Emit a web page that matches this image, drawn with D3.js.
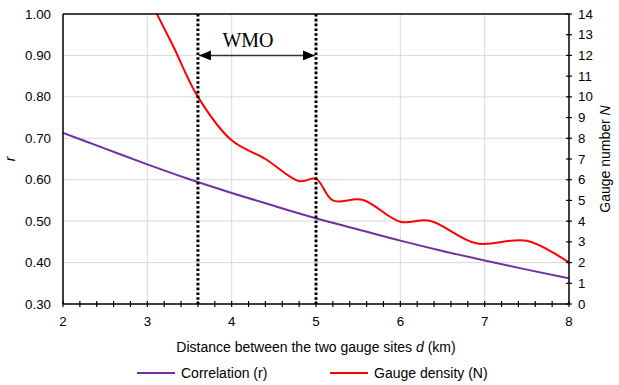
<!DOCTYPE html>
<html><head><meta charset="utf-8">
<script src="https://cdn.jsdelivr.net/npm/d3@7"></script>
<style>body{margin:0;background:#fff}svg{display:block}</style>
</head><body>
<svg id="c" width="619" height="385"></svg>
<script>
// Data
const corrDist = [2, 2.5, 3, 3.5, 4, 4.5, 5, 5.5, 6, 6.5, 7, 7.5, 8];
const corrR = [0.713, 0.675, 0.637, 0.601, 0.568, 0.537, 0.507, 0.480, 0.453, 0.428, 0.405, 0.383, 0.362];
const densDist = [3.0, 3.3, 3.6, 4.0, 4.4, 4.8, 5.0, 5.2, 5.55, 6.0, 6.35, 6.9, 7.5, 8.0];
const densN = [14.9, 12.5, 10.0, 7.9, 7.0, 5.93, 6.04, 5.0, 5.03, 3.97, 4.02, 2.93, 3.05, 2.0];
const xTicks = [2, 3, 4, 5, 6, 7, 8];
const rTicks = [0.30, 0.40, 0.50, 0.60, 0.70, 0.80, 0.90, 1.00];
const nTicks = [0,1,2,3,4,5,6,7,8,9,10,11,12,13,14];
const wmoRange = [3.6, 5];
const seriesNames = ["Correlation (r)", "Gauge density (N)"];

const svg = d3.select("#c");
const L = 63, R = 569, T = 14, B = 304;
const x = d3.scaleLinear().domain([2, 8]).range([L, R]);
const yR = d3.scaleLinear().domain([0.3, 1.0]).range([B, T]);
const yN = d3.scaleLinear().domain([0, 14]).range([B, T]);
const font = "'Liberation Sans', Arial, sans-serif";

// gridlines
const g = svg.append("g");
g.selectAll(".hg").data(rTicks.filter(v => v > 0.31 && v < 0.99)).enter().append("line")
  .attr("x1", L).attr("x2", R).attr("y1", d => yR(d)).attr("y2", d => yR(d))
  .attr("stroke", "#d9d9d9").attr("stroke-width", 1);
g.selectAll(".vg").data(xTicks.filter(v => v > 2 && v < 8)).enter().append("line")
  .attr("x1", d => x(d)).attr("x2", d => x(d)).attr("y1", T).attr("y2", B)
  .attr("stroke", "#d9d9d9").attr("stroke-width", 1);

// clip
svg.append("clipPath").attr("id", "clip").append("rect")
  .attr("x", L).attr("y", T).attr("width", R - L).attr("height", B - T);

// lines
svg.append("path").datum(corrDist.map((d, i) => [d, corrR[i]]))
  .attr("d", d3.line().x(d => x(d[0])).y(d => yR(d[1])).curve(d3.curveMonotoneX))
  .attr("fill", "none").attr("stroke", "#7030A0").attr("stroke-width", 2);
svg.append("path").datum(densDist.map((d, i) => [d, densN[i]]))
  .attr("clip-path", "url(#clip)")
  .attr("d", d3.line().x(d => x(d[0])).y(d => yN(d[1])).curve(d3.curveCatmullRom.alpha(0.5)))
  .attr("fill", "none").attr("stroke", "#FF0000").attr("stroke-width", 2);

// frame
svg.append("line").attr("x1", L).attr("x2", R).attr("y1", T).attr("y2", T).attr("stroke", "#000").attr("stroke-width", 1.5);
svg.append("line").attr("x1", L).attr("x2", L).attr("y1", T).attr("y2", B).attr("stroke", "#000").attr("stroke-width", 1.5);

// bottom axis
const xMinor = d3.range(2, 8.001, 0.2);
const xa = svg.append("g");
xa.append("line").attr("x1", L).attr("x2", R).attr("y1", B).attr("y2", B).attr("stroke", "#000").attr("stroke-width", 1.5);
xa.selectAll(".t").data(xMinor).enter().append("line")
  .attr("x1", d => x(d)).attr("x2", d => x(d)).attr("y1", B - 3).attr("y2", B + 3)
  .attr("stroke", "#000").attr("stroke-width", 1.2);
xa.selectAll(".l").data(xTicks).enter().append("text")
  .attr("x", d => x(d)).attr("y", B + 22).attr("text-anchor", "middle")
  .attr("font-family", font).attr("font-size", 13.3).attr("fill", "#000").text(d => d);

// left axis labels
svg.selectAll(".yl").data(rTicks).enter().append("text")
  .attr("x", 51).attr("y", d => yR(d) + 4.5).attr("text-anchor", "end")
  .attr("font-family", font).attr("font-size", 13.3).attr("fill", "#000").text(d => d.toFixed(2));

// right axis
const ra = svg.append("g");
ra.append("line").attr("x1", R).attr("x2", R).attr("y1", T).attr("y2", B).attr("stroke", "#000").attr("stroke-width", 1.5);
ra.selectAll(".t").data(nTicks).enter().append("line")
  .attr("x1", R - 3).attr("x2", R + 3).attr("y1", d => yN(d)).attr("y2", d => yN(d))
  .attr("stroke", "#000").attr("stroke-width", 1.2);
ra.selectAll(".l").data(nTicks).enter().append("text")
  .attr("x", R + 9).attr("y", d => yN(d) + 4.5).attr("text-anchor", "start")
  .attr("font-family", font).attr("font-size", 13.3).attr("fill", "#000").text(d => d);

// axis titles
svg.append("text").attr("transform", `translate(15,${(T + B) / 2}) rotate(-90)`)
  .attr("text-anchor", "middle").attr("font-family", font).attr("font-size", 14)
  .attr("font-style", "italic").text("r");
const rt = svg.append("text").attr("transform", `translate(610,${(T + B) / 2}) rotate(-90)`)
  .attr("text-anchor", "middle").attr("font-family", font).attr("font-size", 14);
rt.append("tspan").text("Gauge number ");
rt.append("tspan").attr("font-style", "italic").text("N");
const xt = svg.append("text").attr("x", (L + R) / 2).attr("y", 352).attr("text-anchor", "middle")
  .attr("font-family", font).attr("font-size", 14);
xt.append("tspan").text("Distance between the two gauge sites ");
xt.append("tspan").attr("font-style", "italic").text("d");
xt.append("tspan").text(" (km)");

// WMO dotted lines
svg.selectAll(".wmo").data(wmoRange).enter().append("line")
  .attr("x1", d => x(d)).attr("x2", d => x(d)).attr("y1", T).attr("y2", B)
  .attr("stroke", "#000").attr("stroke-width", 3).attr("stroke-dasharray", "2.6,2.2");

// arrow
const defs = svg.append("defs");
defs.append("marker").attr("id", "ah").attr("viewBox", "0 0 12 10").attr("refX", 12).attr("refY", 5)
  .attr("markerWidth", 12).attr("markerHeight", 10).attr("markerUnits", "userSpaceOnUse")
  .attr("orient", "auto-start-reverse")
  .append("path").attr("d", "M0,0 L12,5 L0,10 Z").attr("fill", "#000");
const ay = yR(0.9);
svg.append("line").attr("x1", x(wmoRange[0]) + 1).attr("x2", x(wmoRange[1]) - 1).attr("y1", ay).attr("y2", ay)
  .attr("stroke", "#333").attr("stroke-width", 1.5)
  .attr("marker-start", "url(#ah)").attr("marker-end", "url(#ah)");
svg.append("text").attr("x", 248).attr("y", 47).attr("text-anchor", "middle")
  .attr("font-family", "'Liberation Serif', 'Times New Roman', serif").attr("font-size", 20)
  .text("WMO");

// legend
const leg = [{c: "#7030A0", x: 137}, {c: "#FF0000", x: 330}];
leg.forEach((l, i) => {
  svg.append("line").attr("x1", l.x).attr("x2", l.x + 38).attr("y1", 373).attr("y2", 373)
    .attr("stroke", l.c).attr("stroke-width", 2);
  svg.append("text").attr("x", l.x + 44).attr("y", 378).attr("font-family", font)
    .attr("font-size", 14).text(seriesNames[i]);
});
</script>
</body></html>
